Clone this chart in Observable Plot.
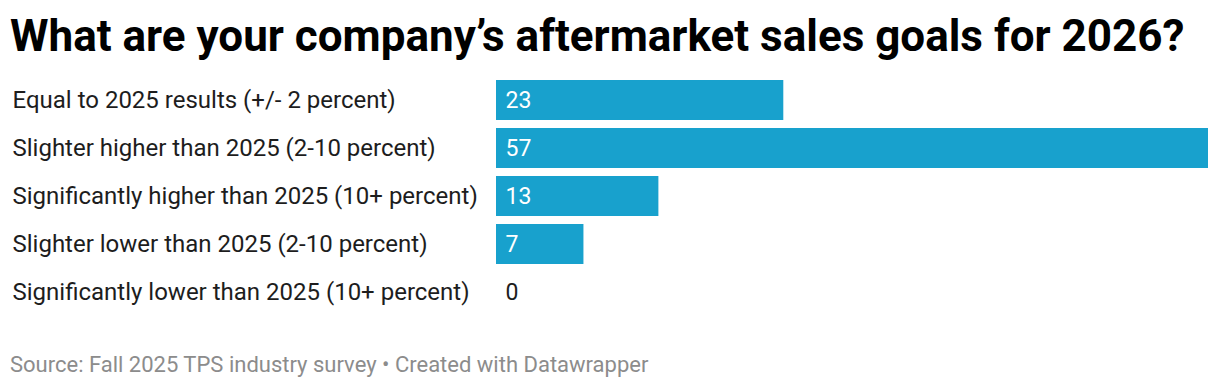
<!DOCTYPE html>
<html>
<head>
<meta charset="utf-8">
<script src="https://cdn.jsdelivr.net/npm/d3@7"></script>
<script src="https://cdn.jsdelivr.net/npm/@observablehq/plot@0.6"></script>
<style>
  body { margin: 0; background: #fff; font-family: Roboto, sans-serif; }
  #wrap { width: 1220px; }
  h1 { margin: 0; padding: 12px 0 0 10px; height: 60px; box-sizing: border-box; font-size: 44px; font-weight: 700; color: #000; line-height: 48px; letter-spacing: 0; white-space: nowrap; }
  #chart { margin-top: 12px; }
  #chart svg { display: block; }
  .foot { padding: 33px 0 0 10px; font-size: 22px; color: #8c8c8c; line-height: 24px; }
</style>
</head>
<body>
<div id="wrap">
  <h1>What are your company’s aftermarket sales goals for 2026?</h1>
  <div id="chart"></div>
  <div class="foot">Source: Fall 2025 TPS industry survey • Created with Datawrapper</div>
</div>
<script>
const categories = [
  "Equal to 2025 results (+/- 2 percent)",
  "Slighter higher than 2025 (2-10 percent)",
  "Significantly higher than 2025 (10+ percent)",
  "Slighter lower than 2025 (2-10 percent)",
  "Significantly lower than 2025 (10+ percent)"
];
const values = [23, 57, 13, 7, 0];

const data = categories.map((c, i) => ({category: c, value: values[i]}));

const chart = Plot.plot({
  width: 1220,
  height: 248,
  marginLeft: 496,
  marginRight: 12,
  marginTop: 4,
  marginBottom: 4,
  style: {fontFamily: "Roboto, sans-serif", fontSize: "24px", background: "#fff"},
  x: {domain: [0, 57], axis: null},
  y: {domain: categories, paddingInner: 8/48, paddingOuter: 4/48, axis: null},
  marks: [
    Plot.barX(data, {x: "value", y: "category", fill: "#18a1cd"}),
    Plot.axisY({anchor: "left", label: null, tickSize: 0, tickPadding: 0, textAnchor: "start", dx: -484, fill: "#1d1d1d", fontSize: 24}),
    Plot.text(data, {x: 0, y: "category", text: d => String(d.value), textAnchor: "start", dx: 9,
      fill: d => d.value > 0 ? "#ffffff" : "#1d1d1d", fontSize: 23})
  ]
});
document.getElementById("chart").appendChild(chart);
</script>
</body>
</html>
